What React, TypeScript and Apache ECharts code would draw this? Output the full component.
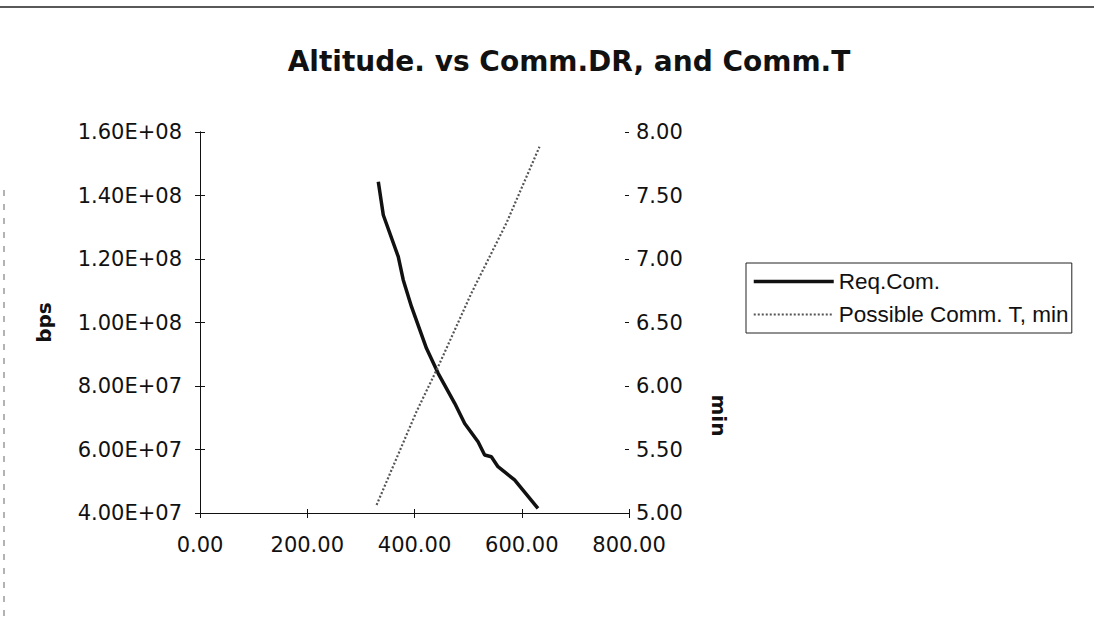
import React, { useEffect, useRef } from "react";
import * as echarts from "echarts";

const titleText = "Altitude. vs Comm.DR, and Comm.T";
const reqName = "Req.Com.";
const commName = "Possible Comm. T, min";

// Req.Com. (bps) vs altitude
const reqAlt = [332.5, 341.8, 369.7, 379, 394.4, 422.3, 444.1, 475, 493.6, 518.5, 530.8, 543.3, 555.7, 586.6, 630.2];
const reqBps = [1.4435e8, 1.3386e8, 1.2072e8, 1.1339e8, 1.0498e8, 9.187e7, 8.4e7, 7.455e7, 6.82e7, 6.246e7, 5.827e7, 5.773e7, 5.458e7, 5.04e7, 4.148e7];

// Possible Comm. T (min) vs altitude
const commAlt = [329.3, 403.7, 444.1, 506, 571.2, 633.1];
const commMin = [5.063, 5.798, 6.152, 6.73, 7.281, 7.884];

const xMin = 0, xMax = 800, xStep = 200;
const bpsMin = 4e7, bpsMax = 1.6e8, bpsStep = 2e7;
const minMin = 5, minMax = 8, minStep = 0.5;

const leftName = "bps";
const rightName = "min";

function sci(v: number): string {
  const [m, e] = v.toExponential(2).split("e");
  const n = parseInt(e, 10);
  return m + "E" + (n < 0 ? "-" : "+") + String(Math.abs(n)).padStart(2, "0");
}

export default function App() {
  const ref = useRef<HTMLDivElement>(null);
  useEffect(() => {
    if (!ref.current) return;
    const chart = echarts.init(ref.current, null, { renderer: "svg" });
    const labelFont = { fontFamily: "DejaVu Sans", fontSize: 21, color: "#111" };
    const axisLine = { show: true, lineStyle: { color: "#111", width: 1 } };
    chart.setOption({
      animation: false,
      backgroundColor: "#fff",
      title: {
        text: titleText,
        left: 564,
        textAlign: "center",
        top: 42,
        textStyle: { fontFamily: "DejaVu Sans", fontWeight: "bold", fontSize: 28, color: "#111" },
      },
      legend: {
        orient: "vertical",
        left: 746,
        top: 263,
        borderColor: "#222",
        borderWidth: 1,
        padding: [7, 3, 7, 6],
        itemWidth: 80,
        itemHeight: 20,
        itemGap: 10,
        itemStyle: { opacity: 0 },
        textStyle: { fontFamily: "Liberation Sans", fontSize: 22.5, color: "#111" },
        data: [
          { name: reqName, lineStyle: { width: 3.5, color: "#111" } },
          { name: commName, lineStyle: { width: 2.2, color: "#555", type: [2, 2] } },
        ],
      },
      grid: { left: 200, right: 465, top: 132, bottom: 107, containLabel: false },
      xAxis: [
        {
          type: "value",
          min: xMin,
          max: xMax,
          interval: xStep,
          axisLine,
          axisTick: { show: true, inside: false, length: 5, lineStyle: { color: "#111" } },
          splitLine: { show: false },
          axisLabel: { ...labelFont, margin: 21, formatter: (v: number) => v.toFixed(2) },
        },
        {
          type: "value",
          position: "bottom",
          min: xMin,
          max: xMax,
          interval: xStep,
          axisLine: { show: false },
          axisTick: { show: true, inside: true, length: 4, lineStyle: { color: "#111" } },
          splitLine: { show: false },
          axisLabel: { show: false },
        },
      ],
      yAxis: [
        {
          type: "value",
          position: "left",
          min: bpsMin,
          max: bpsMax,
          interval: bpsStep,
          name: leftName,
          nameLocation: "middle",
          nameGap: 146,
          nameRotate: 90,
          nameTextStyle: { fontFamily: "DejaVu Sans", fontWeight: "bold", fontSize: 20, color: "#111" },
          axisLine,
          axisTick: { show: true, inside: false, length: 5, lineStyle: { color: "#111" } },
          splitLine: { show: false },
          axisLabel: { ...labelFont, margin: 18, formatter: (v: number) => sci(v) },
        },
        {
          type: "value",
          position: "right",
          min: minMin,
          max: minMax,
          interval: minStep,
          name: rightName,
          nameLocation: "middle",
          nameGap: 80,
          nameRotate: -90,
          nameTextStyle: {
            fontFamily: "DejaVu Sans",
            fontWeight: "bold",
            fontSize: 20,
            color: "#111",
            padding: [0, 0, 0, 186],
          },
          axisLine,
          axisTick: { show: true, inside: false, length: 5, lineStyle: { color: "#111" } },
          splitLine: { show: false },
          axisLabel: { ...labelFont, margin: 7, formatter: (v: number) => v.toFixed(2) },
        },
        {
          type: "value",
          position: "left",
          min: bpsMin,
          max: bpsMax,
          interval: bpsStep,
          axisLine: { show: false },
          axisTick: { show: true, inside: true, length: 4, lineStyle: { color: "#111" } },
          splitLine: { show: false },
          axisLabel: { show: false },
        },
        {
          type: "value",
          position: "right",
          min: minMin,
          max: minMax,
          interval: minStep,
          axisLine: { show: false },
          axisTick: { show: true, inside: true, length: 4, lineStyle: { color: "#111" } },
          splitLine: { show: false },
          axisLabel: { show: false },
        },
      ],
      series: [
        {
          name: reqName,
          type: "line",
          xAxisIndex: 0,
          yAxisIndex: 0,
          symbol: "none",
          smooth: false,
          lineStyle: { color: "#111", width: 3.5 },
          itemStyle: { color: "#111" },
          data: reqAlt.map((x, i) => [x, reqBps[i]]),
        },
        {
          name: commName,
          type: "line",
          xAxisIndex: 0,
          yAxisIndex: 1,
          symbol: "none",
          smooth: false,
          lineStyle: { color: "#555", width: 2.2, type: [2, 2] },
          itemStyle: { color: "#555" },
          data: commAlt.map((x, i) => [x, commMin[i]]),
        },
      ],
      graphic: [
        { type: "line", shape: { x1: 0, y1: 7, x2: 1094, y2: 7 }, style: { stroke: "#222", lineWidth: 1.5 } },
        { type: "line", shape: { x1: 4, y1: 190, x2: 4, y2: 620 }, style: { stroke: "#666", lineWidth: 1, lineDash: [6, 8] } },
      ],
    });
    return () => chart.dispose();
  }, []);
  return <div ref={ref} style={{ position: "fixed", left: 0, top: 0, width: 1094, height: 620 }} />;
}
